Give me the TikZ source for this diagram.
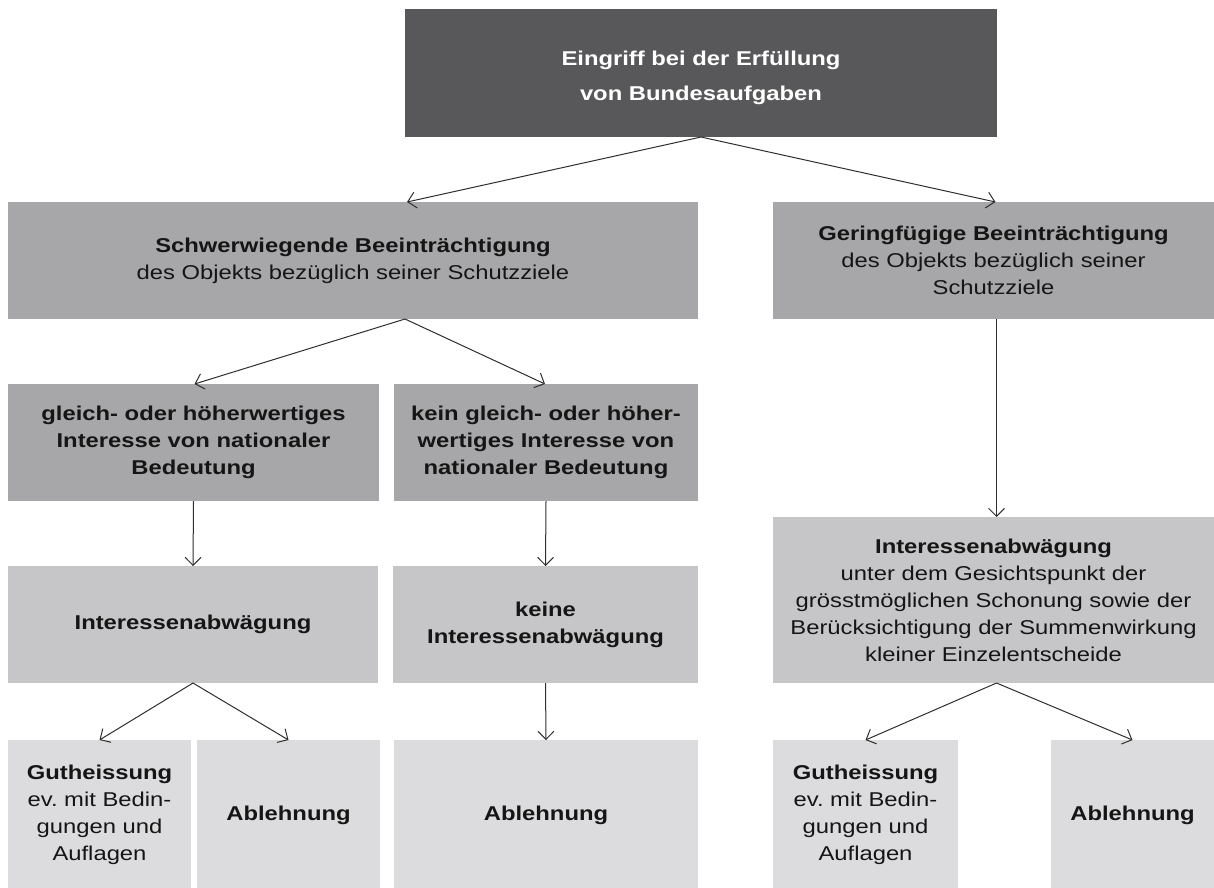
\documentclass[tikz,border=0pt]{standalone}
\usepackage{fontspec}
\setmainfont{Liberation Sans}[FakeStretch=1.19]
\usetikzlibrary{arrows.meta}
\definecolor{cTop}{HTML}{58585A}
\definecolor{cMid}{HTML}{A7A7A9}
\definecolor{cLow}{HTML}{C6C6C8}
\definecolor{cBot}{HTML}{DCDCDE}
\definecolor{cLine}{HTML}{2E2E2E}
\definecolor{cText}{HTML}{151515}
\frenchspacing
\begin{document}
\begin{tikzpicture}[x=1pt,y=-1pt,
  box/.style={inner sep=0pt, outer sep=0pt, align=center, text=cText,
    font=\fontsize{20}{27}\selectfont},
  arr/.style={draw=cLine, line width=1pt,
    -{Straight Barb[length=8pt,width=16pt,line width=1pt]}}]
\useasboundingbox (0,0) rectangle (1214,887);
% level 1
\node[box, fill=cTop, minimum width=592pt, minimum height=128pt] (top) at (701,73) {};
\node[box, text=white, font=\fontsize{20}{35}\selectfont] (toptext) at (701,78)
  {\textbf{Eingriff bei der Erfüllung}\\\textbf{von Bundesaufgaben}};
% level 2
\node[box, fill=cMid, minimum width=690pt, minimum height=117pt] (schw) at (353,260.5)
  {\textbf{Schwerwiegende Beeinträchtigung}\\des Objekts bezüglich seiner Schutzziele};
\node[box, fill=cMid, minimum width=441pt, minimum height=117pt] (ger) at (993.5,260.5)
  {\textbf{Geringfügige Beeinträchtigung}\\des Objekts bezüglich seiner\\Schutzziele};
% level 3
\node[box, fill=cMid, minimum width=371pt, minimum height=117pt] (gl) at (193.5,442.5)
  {\textbf{gleich- oder höherwertiges}\\\textbf{Interesse von nationaler}\\\textbf{Bedeutung}};
\node[box, fill=cMid, minimum width=304pt, minimum height=117pt] (kein) at (546,442.5)
  {\textbf{kein gleich- oder höher-}\\\textbf{wertiges Interesse von}\\\textbf{nationaler Bedeutung}};
% level 4
\node[box, fill=cLow, minimum width=370pt, minimum height=117pt] (iaA) at (193,624.5)
  {\textbf{Interessenabwägung}};
\node[box, fill=cLow, minimum width=305pt, minimum height=117pt] (iaB) at (545.5,624.5)
  {\textbf{keine}\\\textbf{Interessenabwägung}};
\node[box, fill=cLow, minimum width=441pt, minimum height=166pt] (iaC) at (993.5,600)
  {\textbf{Interessenabwägung}\\unter dem Gesichtspunkt der\\grösstmöglichen Schonung sowie der\\Berücksichtigung der Summenwirkung\\kleiner Einzelentscheide};
% level 5
\node[box, fill=cBot, minimum width=183pt, minimum height=150pt] (gutA) at (99.5,815)
  {\textbf{Gutheissung}\\ev. mit Bedin-\\gungen und\\Auflagen};
\node[box, fill=cBot, minimum width=183pt, minimum height=150pt] (ablA) at (288.5,815)
  {\textbf{Ablehnung}};
\node[box, fill=cBot, minimum width=304pt, minimum height=150pt] (ablB) at (546,815)
  {\textbf{Ablehnung}};
\node[box, fill=cBot, minimum width=185pt, minimum height=150pt] (gutB) at (865.5,815)
  {\textbf{Gutheissung}\\ev. mit Bedin-\\gungen und\\Auflagen};
\node[box, fill=cBot, minimum width=163pt, minimum height=150pt] (ablC) at (1132.5,815)
  {\textbf{Ablehnung}};
% connectors
\draw[arr] (top.south) -- ([xshift=54pt]schw.north);
\draw[arr] (top.south) -- ([xshift=2pt]ger.north);
\draw[arr] ([xshift=52pt]schw.south) -- ([xshift=1pt]gl.north);
\draw[arr] ([xshift=52pt]schw.south) -- ([xshift=-1pt]kein.north);
\draw[arr] (gl.south) -- (iaA.north);
\draw[arr] (kein.south) -- (iaB.north);
\draw[arr] ([xshift=3pt]ger.south) -- ([xshift=3pt]iaC.north);
\draw[arr] (iaA.south) -- (gutA.north);
\draw[arr] (iaA.south) -- (ablA.north);
\draw[arr] (iaB.south) -- (ablB.north);
\draw[arr] ([xshift=3pt]iaC.south) -- (gutB.north);
\draw[arr] ([xshift=3pt]iaC.south) -- (ablC.north);
\end{tikzpicture}
\end{document}
